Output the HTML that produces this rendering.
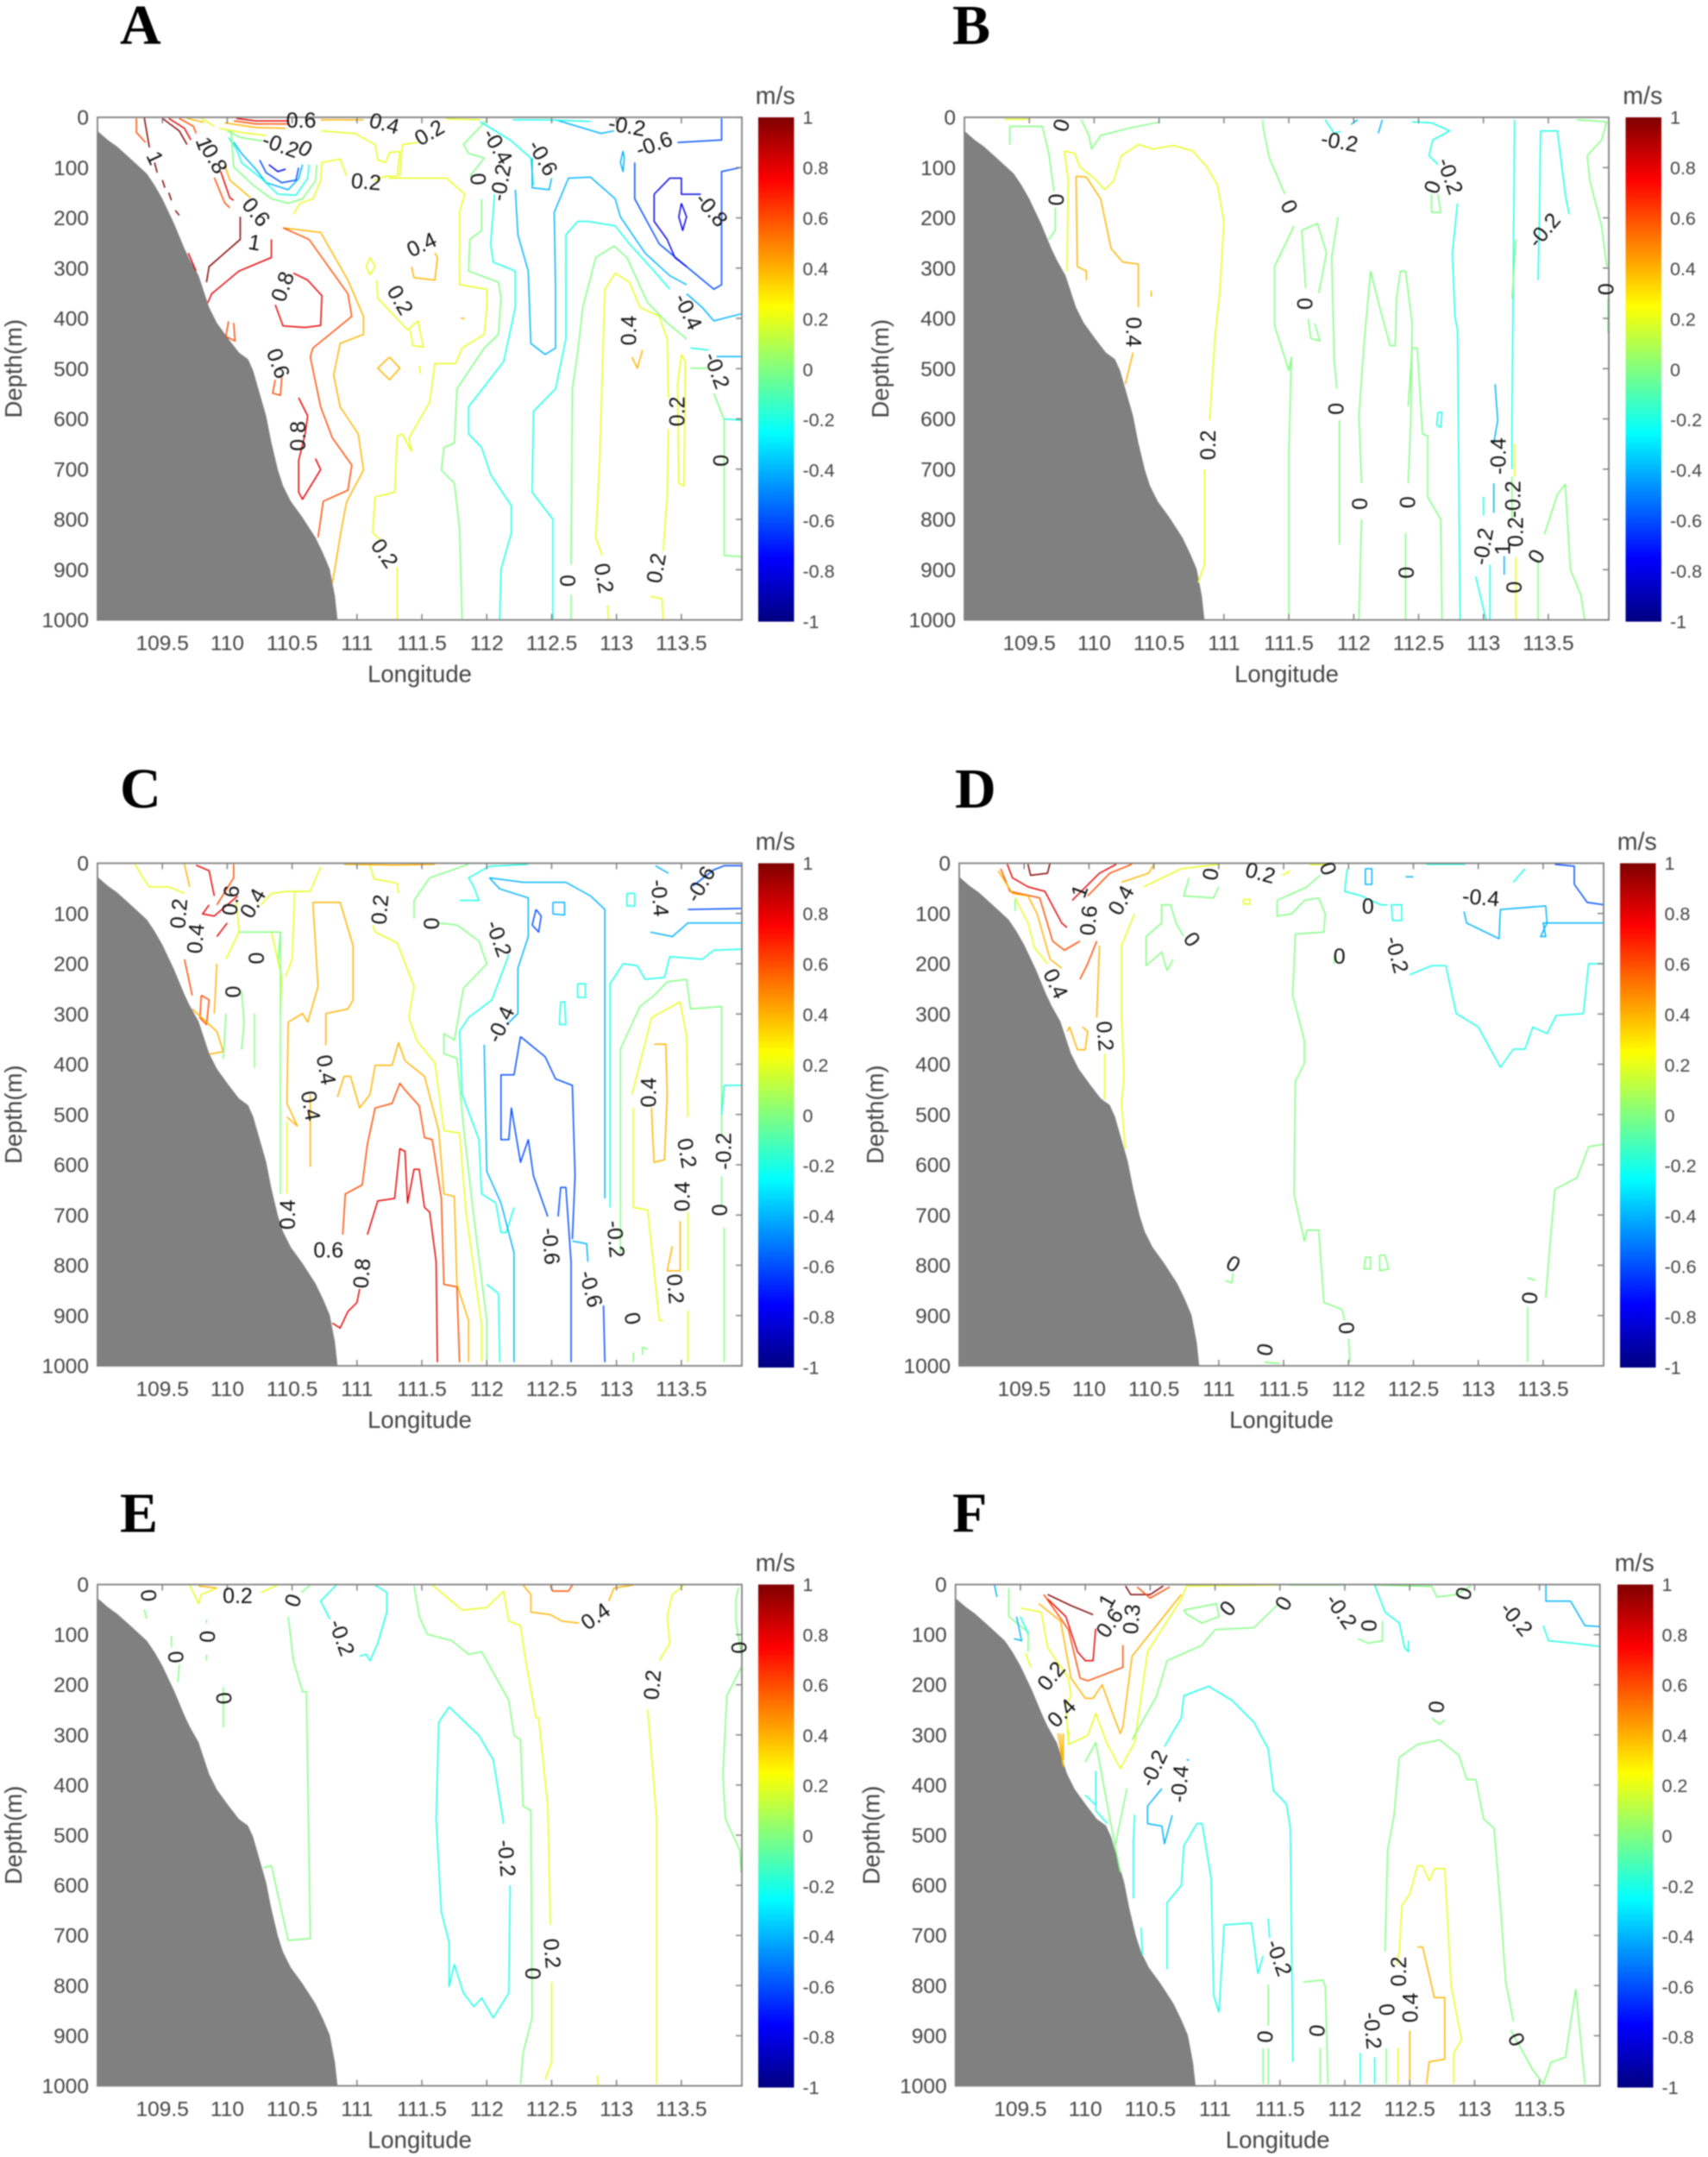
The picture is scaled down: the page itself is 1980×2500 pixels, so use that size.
<!DOCTYPE html>
<html lang="en">
<head>
<meta charset="utf-8">
<title>Velocity sections A-F</title>
<style>
html,body{margin:0;padding:0;background:#fff;}
#figure{display:block;width:1980px;height:2500px;filter:blur(.75px);}
text{font-family:"Liberation Sans",Arial,sans-serif;}
</style>
</head>
<body>
<svg id="figure" xmlns="http://www.w3.org/2000/svg" width="1980" height="2500" viewBox="0 0 1980 2500">
<defs><linearGradient id="jetGradient" x1="0" y1="0" x2="0" y2="1"></linearGradient></defs>
<rect x="0" y="0" width="1980" height="2500" fill="#fff"></rect>
</svg>
<script>
// Axis values
const lonTicks=[109.5,110,110.5,111,111.5,112,112.5,113,113.5];
const depthTicks=[0,100,200,300,400,500,600,700,800,900,1000];
const colorTicks=[1,0.8,0.6,0.4,0.2,0,-0.2,-0.4,-0.6,-0.8,-1];
const lonMin=109,lonMax=113.966,depthMin=0,depthMax=1000,colorMin=-1,colorMax=1;

// Seabed outline shared by all sections
const seabedLon=[109,109.08,109.15,109.25,109.38,109.44,109.5,109.59,109.67,109.71,109.78,109.86,109.92,110.01,110.09,110.16,110.2,110.26,110.3,110.34,110.39,110.43,110.49,110.58,110.68,110.74,110.79,110.83,110.85];
const seabedDepth=[27,45,58,81,112,135,162,211,261,283,315,378,409,441,468,481,504,558,594,647,701,733,764,796,836,868,899,953,1000];

// Contours: [level, [lon,depth, lon,depth, ...]]
const contoursA=[
[0.6,[109.3,2,109.3,30,109.37,50]],[1,[109.36,0,109.38,30,109.4,60]],
[1,[109.44,90,109.46,110]],[1,[109.5,125,109.52,140]],[1,[109.55,150,109.57,165]],[1,[109.6,185,109.63,195]],
[1,[109.5,2,109.63,27,109.69,54]],[0.8,[109.55,2,109.67,22,109.72,45]],[0.6,[109.63,2,109.74,18,109.76,32]],[0.4,[109.69,2,109.82,10]],[0.2,[109.8,2,109.9,18]],
[0.8,[110.07,2,110.22,7,110.47,7]],[0.6,[110.05,7,110.22,13,110.47,13]],[0.4,[109.98,11,110.22,20,110.45,22]],[0.2,[109.94,22,110.13,31,110.3,36]],[0,[110.0,27,110.1,40,110.27,47]],
[-0.8,[110.32,94,110.39,108,110.45,103]],[-0.6,[110.25,85,110.30,110,110.42,130,110.53,125,110.55,100]],
[-0.4,[110.05,49,110.11,72,110.22,103,110.30,130,110.47,144,110.55,122,110.58,94]],
[-0.2,[110.01,40,110.07,63,110.11,90,110.26,121,110.39,153,110.53,155,110.62,121,110.63,94]],
[0,[110.03,27,110.05,99,110.2,135,110.34,162,110.47,171,110.58,162,110.68,126,110.69,94]],
[0.4,[109.98,95,110.02,125,110.18,160]],[0.8,[109.95,108,110.02,160,110.05,165]],[0.6,[109.9,120,109.98,170,110.02,180]],
[0.2,[110.51,193,110.56,171,110.66,162,110.72,126,110.73,90,110.87,83,110.92,117]],
[0.2,[111.13,126,111.22,117,111.31,117,111.33,68,111.25,70,111.22,90,111.16,85,111.14,54,110.98,32,110.72,27]],
[0.2,[111.33,117,111.35,54,111.47,50]],
[0.2,[111.24,121,111.69,121,111.83,153,111.79,189,111.79,333,112.0,342,112.0,378,111.98,432,111.81,459,111.76,490,111.6,490,111.56,567,111.4,638,111.42,665,111.35,630,111.31,634,111.29,746,111.14,755,111.12,827,111.18,840]],
[0.2,[111.31,895,111.31,1000]],
[0.4,[110.43,220,110.72,229,110.93,324,111.05,396,111.05,432,110.87,450,110.82,513,110.87,576,111.01,630,111.05,702,110.92,765,110.88,819,110.81,927]],
[0.6,[110.43,220,110.63,243,110.93,351,110.96,396,110.66,459,110.64,477,110.72,576,110.81,638,110.96,692,110.93,742,110.74,764,110.7,836]],
[0.8,[110.51,310,110.62,324,110.73,355,110.72,414,110.6,418,110.43,415,110.37,373]],
[0.8,[110.55,558,110.62,594,110.6,630,110.55,683,110.55,746,110.58,760,110.72,701,110.68,679]],
[0.8,[110.34,243,110.34,279,110.09,306,109.88,351,109.85,369]],
[1,[110.1,198,110.1,243,109.86,297,109.84,328]],[0.8,[109.7,270,109.76,306]],
[0.6,[110.01,406,109.99,436,110.06,445,110.05,409]],[0.6,[110.37,522,110.35,549,110.41,553,110.42,517]],
[0.2,[111.1,279,111.07,297,111.1,313,111.14,297,111.1,279]],[0.4,[111.42,297,111.44,319,111.6,324,111.62,279,111.6,270]],
[0.2,[111.15,324,111.16,360,111.39,423,111.47,405,111.51,457,111.43,454,111.41,423]],
[0.4,[111.25,477,111.16,499,111.25,522,111.33,499,111.25,477]],[0.2,[111.48,495,111.49,510]],[0.4,[111.8,400,111.83,400]],
[0,[111.96,162,111.96,225,111.87,243,111.86,306,112.09,328,112.11,360,112.09,432,111.98,459,111.77,540,111.75,648,111.67,657,111.65,702,111.75,728,111.79,818,111.81,1000]],
[-0.2,[112.06,153,112.03,252,112.05,288,112.22,306,112.22,378,112.13,486,111.86,576,111.86,630,111.96,657,112.03,711,112.19,773,112.19,827,112.11,899,112.1,1000]],
[-0.4,[112.22,144,112.24,234,112.32,306,112.34,450,112.45,472,112.53,459,112.53,342,112.52,189,112.63,121,112.8,119,112.99,162,113.03,198,113.22,270,113.41,315,113.54,333]],
[-0.2,[113.41,342,113.29,306,113.1,252,112.99,216,112.78,207,112.7,207,112.61,234,112.61,441,112.53,540,112.36,585,112.35,746,112.51,800,112.51,1000]],
[0,[113.54,441,113.39,409,113.24,369,113.08,279,112.98,256,112.84,279,112.74,378,112.7,468,112.66,540,112.65,890]],[0,[112.65,950,112.65,1000]],
[0.2,[113.4,558,113.39,441,113.33,396,113.18,378,113.1,328,112.99,310,112.91,342,112.87,683,112.84,836,112.89,872]],
[0.2,[113.4,620,113.39,755,113.36,863]],[0.2,[113.26,953,113.35,958,113.36,1000]],[0.2,[112.93,971,112.94,1000]],
[0.4,[113.2,463,113.16,499,113.12,477]],[0.2,[113.5,472,113.47,531,113.48,728,113.52,733,113.53,486,113.5,472]],
[0,[113.75,549,113.83,602,113.83,872,113.97,874]],[0,[113.57,499,113.7,499]],[-0.2,[113.83,600,113.97,603]],
[-0.2,[113.57,459,113.71,463]],[-0.4,[113.77,476,113.97,476]],[-0.4,[113.54,351,113.66,378,113.75,405,113.96,391]],
[-0.6,[113.14,90,113.14,162,113.33,252,113.54,297,113.75,342,113.81,333,113.81,216,113.81,108,113.97,99]],
[-0.8,[113.29,153,113.41,121,113.5,121,113.5,153,113.65,153]],[-0.8,[113.29,153,113.29,207,113.39,243,113.45,279,113.54,297]],
[-0.8,[113.5,171,113.48,198,113.51,225,113.54,198,113.5,171]],[-0.4,[113.05,67,113.03,90,113.05,108,113.06,81,113.05,67]],
[-0.6,[113.81,2,113.81,45,113.47,50]],[-0.4,[112.53,5,112.88,32,112.98,27]],[-0.2,[112.2,5,112.45,5,112.8,8]],
[0.4,[110.72,5,111.05,5]],[0.2,[111.69,3,111.95,5]],[0,[112.0,5,111.82,54,111.86,72,111.98,81,111.87,117]],
[-0.2,[111.95,9,112.18,45,112.34,81,112.36,135]],[-0.4,[112.35,81,112.35,140,112.48,144,112.5,121]]
];
const contoursB=[
[0,[109.35,54,109.35,18,109.6,18,109.65,72,109.69,148]],[0,[109.7,180,109.7,225,109.65,243]],
[0,[109.9,5,109.96,36,109.98,63,110.05,36,110.26,22,110.51,9]],[0.2,[109.31,4,109.49,4]],
[0.2,[109.77,67,109.8,126,109.79,306]],
[0.2,[109.77,67,109.85,72,109.89,99,110.0,121,110.08,144,110.15,126,110.21,76,110.34,54,110.45,63,110.61,56,110.76,67,110.87,99,110.95,135,111.0,207,110.97,342,110.93,441,110.89,602]],
[0.2,[110.85,701,110.85,890,110.8,926]],
[0.4,[109.86,117,109.94,119,110.05,162,110.13,261,110.22,288,110.34,292,110.34,378]],[0.4,[109.86,117,109.87,297,109.94,306,109.94,324]],[0.4,[110.3,468,110.24,531]],[0.4,[110.44,345,110.44,357]],
[0,[111.3,5,111.3,18,111.35,81,111.47,153]],[0,[111.54,216,111.39,297,111.39,414,111.5,504,111.52,477,111.5,665,111.5,1000]],
[0,[111.63,340,111.6,225,111.72,211,111.79,270,111.73,350]],[0,[111.65,401,111.67,440,111.74,445,111.7,410]],
[0,[111.88,198,111.83,279,111.85,486,111.87,540]],[0,[111.89,602,111.89,850]],
[0,[112.13,306,112.08,450,112.04,594,112.06,728]],[0,[112.06,800,112.04,1000]],
[0,[112.13,306,112.2,378,112.28,454,112.32,454,112.33,360,112.36,306,112.4,306,112.45,410,112.44,600,112.42,728]],[0,[112.4,827,112.4,1000]],
[0,[112.42,575,112.45,459,112.49,459,112.53,630,112.57,634,112.57,755,112.67,800,112.68,1000]],
[-0.2,[112.8,171,112.76,270,112.78,396,112.8,423,112.82,1000]],
[-0.2,[111.78,5,111.85,32,111.9,28]],[-0.4,[112.03,5,111.98,14]],[-0.4,[112.22,5,112.19,32]],
[-0.2,[112.45,9,112.6,11,112.74,27,112.61,45,112.58,76,112.65,94]],
[0,[112.6,153,112.6,189,112.67,189,112.65,153]],
[-0.2,[113.24,5,113.22,600,113.22,700]],[0,[113.25,243,113.22,360]],[0.2,[113.24,650,113.24,715]],[0.2,[113.25,875,113.25,1000]],[0,[113.22,715,113.22,800]],
[-0.2,[113.44,27,113.57,27,113.63,153,113.66,193]],[-0.2,[113.44,27,113.43,216,113.42,324]],
[-0.4,[113.09,531,113.11,603,113.08,648]],[-0.4,[113.08,728,113.08,787]],[-0.4,[113.16,873,113.16,910]],
[-0.2,[112.65,587,112.64,612,112.67,617,112.68,587,112.65,587]],[-0.2,[113.0,755,113.0,792]],[-0.2,[112.94,913,113.02,1000]],[-0.2,[113.05,890,113.05,1000]],
[0,[113.72,5,113.95,9,113.91,45,113.8,76,113.82,126,113.91,216,113.95,297]],[0,[113.96,360,113.96,430]],
[0,[113.42,880,113.42,1000]],[0,[113.47,830,113.57,750,113.63,730,113.67,900,113.75,950,113.78,1000]]
];
const contoursC=[
[0.8,[111.08,739,111.16,672,111.29,667,111.33,568,111.37,573,111.39,676,111.44,609,111.48,609,111.52,685,111.56,694,111.61,793,111.62,993]],
[0.8,[110.81,915,110.87,925,110.93,892,111.0,874,111.02,847]],
[0.6,[110.89,739,110.91,658,111.04,640,111.08,559,111.14,487,111.27,478,111.33,438,111.37,451,111.48,483,111.52,546,111.58,550,111.65,667,111.67,838,111.77,843,111.79,993]],
[0.4,[110.85,465,110.9,424,110.95,424,111.02,487,111.1,460,111.14,402,111.27,402,111.32,357,111.37,393,111.52,424,111.63,532,111.67,658,111.75,663,111.77,838,111.86,910,111.86,993]],
[0.2,[111.12,123,111.14,137,111.31,159,111.44,245,111.4,307,111.46,353,111.6,397,111.67,532,111.79,537,111.84,694,111.96,919,111.96,993]],
[0.2,[111.1,5,111.13,31,111.31,40,111.32,60]],[0.4,[110.9,2,111.3,4,111.6,2]],
[0,[111.63,119,111.77,123,111.94,155,112.0,200,111.82,249,111.75,352,111.67,339,111.67,379,111.77,388,111.82,523,111.9,703,112.0,910,112.0,993]],
[0,[111.44,110,111.44,74,111.56,29,111.86,2]],
[-0.2,[112.17,182,112.04,272,111.86,307,111.79,335,111.81,460,111.94,550,111.96,658,112.07,676,112.11,735,112.15,735,112.21,685]],
[-0.2,[112.0,838,112.09,856,112.1,993]],[-0.2,[111.79,74,111.94,74,111.9,47,111.86,29,112.02,6,112.32,2]],
[-0.4,[112.02,29,112.1,51,112.32,69,112.32,146,112.24,209,112.24,299,112.17,317]],
[-0.4,[111.98,361,112.0,613,112.11,676,112.21,775,112.21,993]],
[-0.4,[112.02,29,112.28,38,112.61,38,112.8,65,112.91,92,112.91,667]],
[-0.6,[112.26,345,112.45,385,112.53,429,112.66,442,112.68,622,112.66,748]],
[-0.6,[112.26,345,112.21,421,112.11,421,112.11,550,112.17,550,112.19,487,112.26,595,112.32,550,112.36,622,112.47,703]],
[-0.6,[112.55,703,112.57,645,112.61,645,112.65,793,112.65,993]],[-0.4,[112.66,752,112.77,757,112.78,793]],
[-0.6,[112.9,880,112.91,993]],[-0.6,[112.38,92,112.35,123,112.4,137,112.42,105,112.38,92]],
[-0.4,[112.51,78,112.51,101,112.6,103,112.6,78,112.51,78]],[-0.2,[112.7,240,112.7,267,112.76,267,112.76,240,112.7,240]],
[-0.2,[112.57,276,112.56,321,112.61,321,112.6,276,112.57,276]],[-0.2,[113.08,60,113.08,85,113.14,85,113.14,60,113.08,60]],
[-0.2,[113.97,171,113.75,173,113.66,191,113.41,186,113.37,227,113.22,231,113.16,204,113.05,200,112.95,240,112.95,685]],
[0,[113.03,370,113.18,285,113.29,263,113.39,236,113.54,231,113.57,290,113.81,285,113.81,541]],[0,[113.03,370,113.03,775]],[0,[113.13,973,113.13,993]],[0,[113.83,725,113.83,993]],[0,[113.81,623,113.81,680]],
[0.2,[113.13,487,113.13,685,113.24,690,113.33,910,113.36,910]],[0.2,[113.12,460,113.27,307,113.39,290,113.49,276,113.54,344,113.55,505]],
[0.4,[113.29,360,113.38,360,113.39,460,113.37,590,113.29,595,113.28,550,113.27,487]],[0.4,[113.49,712,113.49,811,113.39,811,113.43,762]],
[0.2,[113.55,694,113.55,811]],[0.2,[113.55,890,113.55,993]],[-0.2,[113.83,442,113.97,442]],[-0.2,[113.83,442,113.81,500]],
[-0.6,[113.55,92,113.97,90]],[-0.4,[113.26,137,113.43,146,113.55,119,113.97,119]],[-0.6,[113.59,45,113.75,13,113.83,5,113.97,5]],[-0.4,[113.3,5,113.4,20]],
[0,[113.2,978,113.2,963,113.24,967]],
[0.2,[109.29,2,109.35,29,109.4,47,109.55,47,109.67,60]],[0.4,[109.67,2,109.71,47]],[0.8,[109.76,4,109.86,15,109.9,65]],[0.6,[110.05,2,110.05,29,109.92,83]],
[0.8,[109.86,83,109.81,101,109.9,105,110.08,65]],[0.8,[109.92,146,110.0,119]],[0.4,[109.92,200,109.9,299]],[0.6,[109.67,191,109.73,263]],
[0.6,[109.8,263,109.79,308,109.84,321,109.86,272,109.8,263]],[0.4,[109.73,290,109.92,335,109.97,375,109.86,380]],
[0.2,[110.07,74,110.09,137,109.99,191]],[0,[109.99,299,109.97,389]],[0,[110.09,137,110.41,137,110.39,200]],[0,[110.11,254,110.13,317,110.11,371]],[0,[110.21,299,110.21,407]],
[0.2,[110.34,137,110.42,227,110.41,299]],[0.4,[110.66,78,110.87,78,110.97,164,110.97,272,110.93,290,110.76,299,110.76,362]],
[0.4,[110.66,78,110.7,245,110.66,281,110.62,316,110.58,299,110.47,316,110.46,478,110.54,523,110.46,505]],[0.4,[110.64,460,110.64,604]],
[0.2,[110.46,514,110.46,658]],[0,[110.41,137,110.41,658]],[0.2,[110.6,56,110.52,56,110.5,191,110.45,225]],[0.2,[110.72,7,110.64,56,110.46,56,110.34,60,110.26,83]]
];
const contoursD=[
[1,[109.53,2,109.55,24,109.68,20,109.7,0]],[0.8,[109.37,2,109.41,29,109.53,47,109.66,56,109.79,119,109.83,128]],
[0.6,[109.32,11,109.39,56,109.62,69,109.72,155,109.81,173,109.93,155]],[0.4,[109.3,15,109.41,60,109.53,65,109.6,101,109.7,191,109.79,209]],
[0.2,[109.43,69,109.53,119,109.58,168,109.68,200]],[0,[109.43,72,109.43,95]],
[0.8,[109.87,74,110.08,20,110.21,2]],[0.6,[109.99,65,110.16,20,110.33,2]],[0.4,[110.25,38,110.46,20,110.5,2]],[0.2,[110.42,47,110.71,11,111.0,2]],
[0.6,[109.93,231,109.99,200,110.06,155]],[0.4,[110.08,164,110.06,307]],[0.2,[110.35,101,110.25,164,110.25,299,110.27,424,110.25,478,110.28,568]],
[0.4,[109.83,335,109.85,326,109.91,371,109.97,371,109.99,335,109.95,326]],[0.2,[110.12,379,110.12,470]],
[0,[110.77,29,110.73,65,110.96,69,111.0,47]],
[0,[110.44,204,110.44,146,110.56,119,110.56,83,110.63,83,110.67,119,110.73,146]],[0,[110.44,204,110.56,177,110.6,213,110.65,191]],
[0,[111.45,74,111.45,105,111.56,101,111.66,74,111.77,69,111.82,101,111.81,137,111.59,141,111.57,263,111.66,353,111.66,398,111.59,434,111.58,658,111.66,752,111.68,730,111.77,730,111.81,874,111.95,888,111.97,910]],
[0,[112.0,946,112.01,993]],[0,[111.45,74,111.68,47,111.78,24]],
[-0.2,[112.47,222,112.64,204,112.75,204,112.83,299,113.0,326,113.17,406,113.27,370,113.36,370,113.42,326,113.53,339,113.6,303,113.81,299,113.85,200,113.97,200]],
[-0.2,[111.99,11,111.97,56,112.1,65]],[-0.4,[112.13,11,112.13,42,112.18,42,112.18,11,112.13,11]],[-0.4,[112.44,27,112.5,27]],
[-0.2,[112.33,83,112.34,114,112.41,114,112.41,83,112.33,83]],[-0.2,[112.1,65,112.25,83,112.3,83]],
[-0.4,[112.89,96,112.91,119,113.16,150,113.17,92,113.52,85,113.53,119,113.48,146,113.52,146,113.5,119,113.97,119]],
[-0.6,[113.59,2,113.74,6,113.74,42,113.84,78,113.97,83]],[-0.2,[113.27,38,113.36,11]],[-0.2,[112.6,2,112.9,2]],
[0,[113.97,559,113.85,564,113.76,626,113.59,649,113.55,766,113.52,865]],[0,[113.38,825,113.44,830]],[0,[113.38,883,113.38,993]],
[0,[112.13,784,112.12,807,112.17,807,112.17,784,112.13,784]],[0,[112.24,780,112.24,811,112.31,807,112.28,780,112.24,780]],
[0.2,[111.19,72,111.19,81,111.24,81,111.24,72,111.19,72]],[0.2,[111.49,24,111.55,15]],[0.2,[111.7,3,111.85,2]],
[0,[111.35,993,111.47,995]],[0,[111.05,830,111.1,835,111.11,815]],[0,[111.89,185,111.89,200]]
];
const contoursE=[
[-0.2,[110.84,1,110.72,33,110.79,69]],[-0.2,[111.02,143,111.07,139,111.1,152,111.16,117,111.23,55,111.23,16,111.14,1]],
[0,[110.47,64,110.51,152,110.58,214,110.61,214,110.64,706,110.47,710,110.34,561,110.28,565]],[0,[110.64,1,110.57,16]],
[0,[111.44,3,111.48,64,111.54,99,111.73,112,111.86,139,111.96,134,112.17,231,112.21,301,112.26,310,112.28,442,112.34,451,112.35,864,112.28,934,112.26,996]],
[0.2,[111.58,1,111.81,51,112.0,46,112.13,13,112.17,73,112.26,82,112.3,152,112.38,266,112.4,266,112.47,442,112.49,679]],[0.2,[112.5,793,112.5,952,112.45,987]],
[0.4,[112.28,1,112.34,20,112.34,55,112.49,60,112.58,73,112.71,77]],[0.4,[112.94,33,112.98,7,113.13,1]],
[0.6,[112.49,3,112.51,13,112.63,13,112.66,1]],
[0.2,[113.52,1,113.43,20,113.39,64,113.41,117,113.33,152]],[0.2,[113.24,249,113.31,468,113.31,996]],[0.2,[112.85,980,112.86,1000]],
[-0.2,[111.71,244,111.63,275,111.61,468,111.65,653,111.71,714,111.71,802,111.75,758,111.82,815,111.9,842,111.96,825,112.05,864,112.17,815,112.18,600]],
[-0.2,[111.71,244,111.94,301,112.05,350,112.13,477]],
[0,[113.94,7,113.92,29,113.92,73,113.97,152]],[0,[113.97,161,113.85,222,113.82,381,113.84,468,113.95,530,113.96,574]],
[0.2,[109.71,1,109.78,38,109.8,20,109.92,7]],[0.4,[109.78,3,109.92,7]],[0.2,[110.26,16,110.39,1]],
[0,[109.36,50,109.38,68]],[0,[109.57,103,109.57,125]],[0,[109.63,160,109.62,195]],[0,[109.84,77,109.84,70]],[0,[109.84,140,109.84,152]],[0,[109.97,205,109.97,285]]
];
const contoursF=[
[1,[109.71,20,109.89,42,110.06,60]],[1,[110.31,3,110.35,20,110.5,20,110.6,3]],
[0.8,[109.71,29,109.85,64,109.94,134,110.0,152,110.06,152,110.08,88]],
[0.6,[109.68,20,109.87,90,109.96,187,110.02,192,110.29,165,110.29,121]],[0.6,[110.4,5,110.5,27,110.65,5]],
[0.4,[109.64,38,109.81,73,109.89,187,110.0,227,110.06,227,110.13,200,110.21,257,110.27,297,110.29,284,110.36,143,110.44,117,110.74,20]],
[0.2,[109.5,47,109.66,55,109.71,126,109.87,187,109.89,222,109.85,240,109.87,319,110.02,301,110.08,257,110.17,319,110.27,367,110.38,315,110.48,134,110.74,29,110.78,3]],
[0.2,[110.78,3,111.49,1]],[0,[111.57,1,112.0,1]],
[0,[109.41,7,109.41,64,109.56,95,109.56,134]],[0,[110.0,354,110.08,315,110.19,468,110.27,574]],[0,[110.32,407,110.23,521]],
[0,[110.36,310,110.55,222,110.63,152,110.9,121,111.0,90,111.3,86,111.49,38]],[0,[110.76,51,111.01,38,111.03,64,110.9,77,110.78,59,110.76,51]],
[0,[112.23,1,112.67,4,112.71,25,112.86,20,112.97,3]],[0,[112.1,108,112.18,117,112.29,112,112.29,73]],
[-0.2,[112.23,1,112.31,55,112.42,77,112.46,126,112.49,134,112.49,112]],
[-0.2,[110.61,323,110.74,266,110.76,222,110.95,203,111.13,231,111.3,275,111.41,328,111.45,411,111.55,438,111.58,486,111.6,952]],
[-0.2,[110.63,767,110.63,635,110.74,600,110.76,521,110.86,477,110.9,477,110.97,587,110.99,820,111.03,853,111.07,679,111.28,675,111.33,776,111.37,741]],
[-0.2,[111.41,666,111.42,705]],[-0.2,[110.38,459,110.37,512,110.37,626]],[-0.2,[110.08,372,110.08,451,110.17,477]],[-0.2,[110.0,420,110.08,440]],[-0.2,[110.43,684,110.44,740]],
[-0.4,[110.59,407,110.48,442,110.48,477,110.59,482,110.61,517,110.67,460]],[-0.4,[110.78,350,110.8,350]],
[-0.4,[109.47,64,109.51,112,109.45,108]],[-0.4,[109.3,1,109.32,25]],[-0.2,[109.56,99,109.5,64]],
[0,[113.78,807,113.7,943,113.59,953,113.53,996,113.45,969,113.28,889]],[0,[113.78,807,113.85,996]],[0,[112.67,266,112.73,279,112.77,270]],
[0,[112.42,345,112.56,319,112.73,310,112.88,341,112.94,389,113.01,389,113.07,468,113.15,486,113.2,644,113.24,793,113.3,872]],
[0,[112.42,345,112.38,460,112.33,530,112.31,732]],
[0.2,[112.56,561,112.5,618,112.44,640,112.42,732,112.4,758]],[0.2,[112.56,561,112.6,561,112.65,591,112.69,567,112.77,567,112.82,802,112.9,908,112.84,934,112.84,996]],
[0.4,[112.56,723,112.6,723,112.69,824,112.77,824,112.77,947,112.65,952,112.63,996]],[0.4,[112.5,890,112.5,996]],
[0.2,[112.41,925,112.41,996]],[0,[112.32,925,112.32,996]],[-0.2,[112.12,934,112.12,996]],[-0.2,[112.23,943,112.23,996]],
[0,[111.68,793,111.83,789,111.85,802,111.87,996]],[0,[111.81,925,111.81,996]],[0,[111.41,798,111.41,880]],[0,[111.37,925,111.37,996]],[0,[111.41,925,111.41,996]],
[-0.4,[113.55,1,113.55,33,113.74,33,113.85,82,113.97,84]],[-0.2,[113.53,82,113.57,112,113.76,117,113.97,124]],
[0.4,[109.79,297,109.83,363,109.81,297]],[0.4,[109.83,297,109.83,350]],[0.2,[109.87,290,109.87,320]],[0.2,[109.54,137,109.58,165]]
];

// Inline contour labels: [text, lon, depth, angle]
const labelsA=[["0.6",110.57,7,0],["0.4",111.21,13,15],["0.2",111.56,31,-30],["-0.4",112.08,58,60],["-0.2",112.11,130,-80],["0",111.93,123,85],["-0.6",112.43,81,60],["-0.2",113.08,18,10],["-0.6",113.29,54,-20],["-0.8",113.73,184,50],["0.2",111.07,129,5],["0.4",111.5,254,-25],["0.8",110.43,337,-70],["0.6",110.22,189,50],["1",110.21,250,10],["1",109.44,81,65],["1",109.82,52,70],["0.8",109.9,83,60],["-0.2",110.41,56,20],["0",110.6,63,30],["0.2",111.33,364,60],["0.6",110.39,490,70],["0.8",110.55,634,-90],["0.4",113.1,424,-90],["0.2",113.47,585,-90],["-0.4",113.55,387,65],["-0.2",113.77,504,70],["0",113.81,683,-90],["0.2",111.21,868,55],["0",112.63,922,-90],["0.2",112.9,917,80],["0.2",113.31,897,-80]];
const labelsB=[["0",109.75,16,-75],["-0.2",111.89,49,10],["0",109.7,164,90],["0",112.61,139,-70],["-0.2",112.74,117,70],["-0.2",113.47,225,-50],["0",111.5,178,65],["0",111.63,371,-90],["0",113.95,342,-90],["0.4",110.3,427,90],["0",111.87,580,-90],["0.2",110.88,652,-90],["-0.4",113.12,674,-90],["-0.2",113.23,760,-90],["0",112.05,769,-90],["0",112.42,766,-90],["0.2",113.25,825,-90],["-0.2",113.0,854,-80],["1",113.15,859,-90],["0",113.41,874,-60],["0",112.41,906,-90],["0",113.24,935,-90]];
const labelsC=[["0.6",110.03,74,-85],["0.4",110.2,80,-60],["0.2",111.18,92,-85],["0",111.58,120,-90],["-0.2",112.09,150,70],["0.4",109.76,150,-85],["0.2",109.63,100,-85],["0",110.23,189,-90],["0",110.05,256,-90],["-0.4",112.11,321,-65],["-0.4",113.33,69,85],["-0.6",113.65,42,-60],["0.4",110.76,411,80],["0.4",110.64,483,80],["0.4",113.25,456,-90],["0.2",113.54,577,80],["-0.2",113.83,573,-90],["0.4",113.51,663,-90],["0",113.8,690,-90],["0.4",110.47,699,-90],["0.6",110.78,771,0],["0.8",111.04,816,-85],["-0.6",112.49,762,85],["-0.2",112.99,748,85],["-0.6",112.8,847,75],["0.2",113.45,847,85],["0",113.12,906,80]];
const labelsD=[["0",110.94,22,-80],["0.2",111.32,20,15],["0",111.84,11,70],["1",109.93,56,-70],["0.6",110.0,114,-85],["0.4",110.25,74,-60],["0",110.79,152,55],["0",112.15,87,0],["0",111.93,186,0],["-0.2",112.37,182,75],["-0.4",113.02,69,5],["0.4",109.74,240,65],["0.2",110.12,344,85],["0",111.11,798,30],["0",113.4,865,-85],["0",111.98,925,85],["0",111.36,968,-80]];
const labelsE=[["0",109.39,22,85],["0.2",110.08,23,0],["0",110.51,32,-70],["-0.2",110.88,106,70],["0",109.84,104,90],["0",109.6,145,85],["0",109.97,227,85],["0.4",112.84,64,-35],["0",113.94,126,85],["0.2",113.28,200,-85],["-0.2",112.15,546,85],["0.2",112.5,736,85],["0",112.35,776,90]];
const labelsF=[["0.2",109.74,183,-50],["0.4",109.82,257,-45],["1",110.17,33,-60],["0.6",110.19,77,-55],["0.3",110.36,69,-85],["0",111.1,48,-50],["0",111.53,38,-60],["-0.2",111.97,54,55],["0",112.18,82,90],["0",112.92,18,-75],["-0.2",113.32,69,50],["0",112.71,244,-85],["-0.2",110.53,367,-65],["-0.4",110.73,398,-85],["-0.2",111.49,745,70],["0.2",112.42,772,-90],["0.4",112.51,844,-90],["0",112.32,848,85],["-0.2",112.21,890,85],["0",111.39,902,-85],["0",111.79,890,-85],["0",113.32,908,65]];

const panels=[
 {id:"a",title:"A",tx:139,ty:51,x0:113,y0:136,y1:718.5,cb:879,contours:contoursA,labels:labelsA},
 {id:"b",title:"B",tx:1104,ty:51,x0:1118,y0:136,y1:718.5,cb:1884.5,contours:contoursB,labels:labelsB},
 {id:"c",title:"C",tx:139,ty:936,x0:113,y0:1000.5,y1:1583,cb:879,contours:contoursC,labels:labelsC},
 {id:"d",title:"D",tx:1107,ty:936,x0:1112,y0:1000.5,y1:1583,cb:1878,contours:contoursD,labels:labelsD},
 {id:"e",title:"E",tx:139,ty:1775.5,x0:113,y0:1836.5,y1:2417.5,cb:879,contours:contoursE,labels:labelsE},
 {id:"f",title:"F",tx:1104,ty:1775.5,x0:1107.7,y0:1836.5,y1:2417.5,cb:1875,contours:contoursF,labels:labelsF}
];
const plotWidth=747,colorbarWidth=41.5;

const svgNS="http://www.w3.org/2000/svg";
const figure=document.getElementById("figure");
function make(tag,attrs,parent,txt){
  const n=document.createElementNS(svgNS,tag);
  for(const k in attrs){n.setAttribute(k,attrs[k]);}
  if(txt!==undefined){n.textContent=txt;}
  parent.appendChild(n);
  return n;
}
function clamp01(v){return Math.max(0,Math.min(1,v));}
function jet(v){
  const t=(v-colorMin)/(colorMax-colorMin);
  const r=clamp01(1.5-Math.abs(4*t-3)),g=clamp01(1.5-Math.abs(4*t-2)),b=clamp01(1.5-Math.abs(4*t-1));
  return "rgb("+Math.round(r*255)+","+Math.round(g*255)+","+Math.round(b*255)+")";
}
const gradient=document.getElementById("jetGradient");
for(let i=0;i<=64;i++){
  make("stop",{offset:(i/64),"stop-color":jet(colorMax-(colorMax-colorMin)*i/64)},gradient);
}
const textColor="#454545",axisColor="#808080";

panels.forEach(function(p){
  const xScale=function(lon){return p.x0+(lon-lonMin)/(lonMax-lonMin)*plotWidth;};
  const yScale=function(d){return p.y0+(d-depthMin)/(depthMax-depthMin)*(p.y1-p.y0);};
  const x1=p.x0+plotWidth;
  const g=make("g",{},figure);
  
  

  const title=make("text",{x:p.tx,y:p.ty,"font-size":66,"font-weight":"bold",fill:"#000",style:'font-family:"Liberation Serif",serif'},g,p.title);
  
  

  const seabedPoints=seabedLon.map(function(lon,i){return xScale(lon).toFixed(1)+","+yScale(seabedDepth[i]).toFixed(1);});
  seabedPoints.push(xScale(lonMin).toFixed(1)+","+yScale(depthMax).toFixed(1));
  const seabed=make("polygon",{points:seabedPoints.join(" "),fill:"#808080"},g);
  
  

  const lines=make("g",{fill:"none","stroke-width":1.5,"stroke-linejoin":"round"},g);
  
  
  p.contours.forEach(function(c){
    const pts=[];
    for(let i=0;i<c[1].length;i+=2){pts.push(xScale(c[1][i]).toFixed(1)+","+yScale(c[1][i+1]).toFixed(1));}
    const line=make("polyline",{points:pts.join(" "),stroke:jet(c[0])},lines);
    
    
  });

  const box=make("rect",{x:p.x0,y:p.y0,width:plotWidth,height:p.y1-p.y0,fill:"none",stroke:axisColor,"stroke-width":1.8},g);
  
  

  lonTicks.forEach(function(v){
    const tx=xScale(v);
    const top=make("line",{x1:tx,x2:tx,y1:p.y0,y2:p.y0+7,stroke:axisColor,"stroke-width":1.5},g);
    
    
    const bottom=make("line",{x1:tx,x2:tx,y1:p.y1,y2:p.y1-7,stroke:axisColor,"stroke-width":1.5},g);
    
    
    const t=make("text",{x:tx,y:p.y1+35,"font-size":24.5,fill:textColor,"text-anchor":"middle"},g,String(v));
    
    
  });
  depthTicks.forEach(function(v){
    const ty=yScale(v);
    const tick=make("line",{x1:x1,x2:x1-7,y1:ty,y2:ty,stroke:axisColor,"stroke-width":1.5},g);
    
    
    const t=make("text",{x:p.x0-10,y:ty+8.5,"font-size":24.5,fill:textColor,"text-anchor":"end"},g,String(v));
    
    
  });

  const xTitle=make("text",{x:p.x0+plotWidth/2,y:p.y1+72,"font-size":27.5,fill:textColor,"text-anchor":"middle"},g,"Longitude");
  
  
  const yx=p.x0-88,yy=(p.y0+p.y1)/2;
  const yTitle=make("text",{x:yx,y:yy,"font-size":27.5,fill:textColor,"text-anchor":"middle",transform:"rotate(-90 "+yx+" "+yy+")"},g,"Depth(m)");
  
  

  p.labels.forEach(function(l){
    const lx=xScale(l[1]),ly=yScale(l[2]);
    const t=make("text",{x:lx,y:ly,"font-size":25,fill:"#111","text-anchor":"middle","dominant-baseline":"central",transform:"rotate("+l[3]+" "+lx.toFixed(1)+" "+ly.toFixed(1)+")"},g,l[0]);
    
    
  });

  const cbTop=p.y0,cbBottom=p.y1+2;
  const bar=make("rect",{x:p.cb,y:cbTop,width:colorbarWidth,height:cbBottom-cbTop,fill:"url(#jetGradient)"},g);
  
  
  const unit=make("text",{x:p.cb+colorbarWidth/2-1,y:p.y0-15.5,"font-size":28.5,fill:textColor,"text-anchor":"middle"},g,"m/s");
  
  
  colorTicks.forEach(function(v){
    const ty=cbTop+(colorMax-v)/(colorMax-colorMin)*(cbBottom-cbTop);
    const t=make("text",{x:p.cb+colorbarWidth+10,y:ty+7.5,"font-size":21.5,fill:textColor},g,String(v));
    
    
  });
});
</script>
</body>
</html>
